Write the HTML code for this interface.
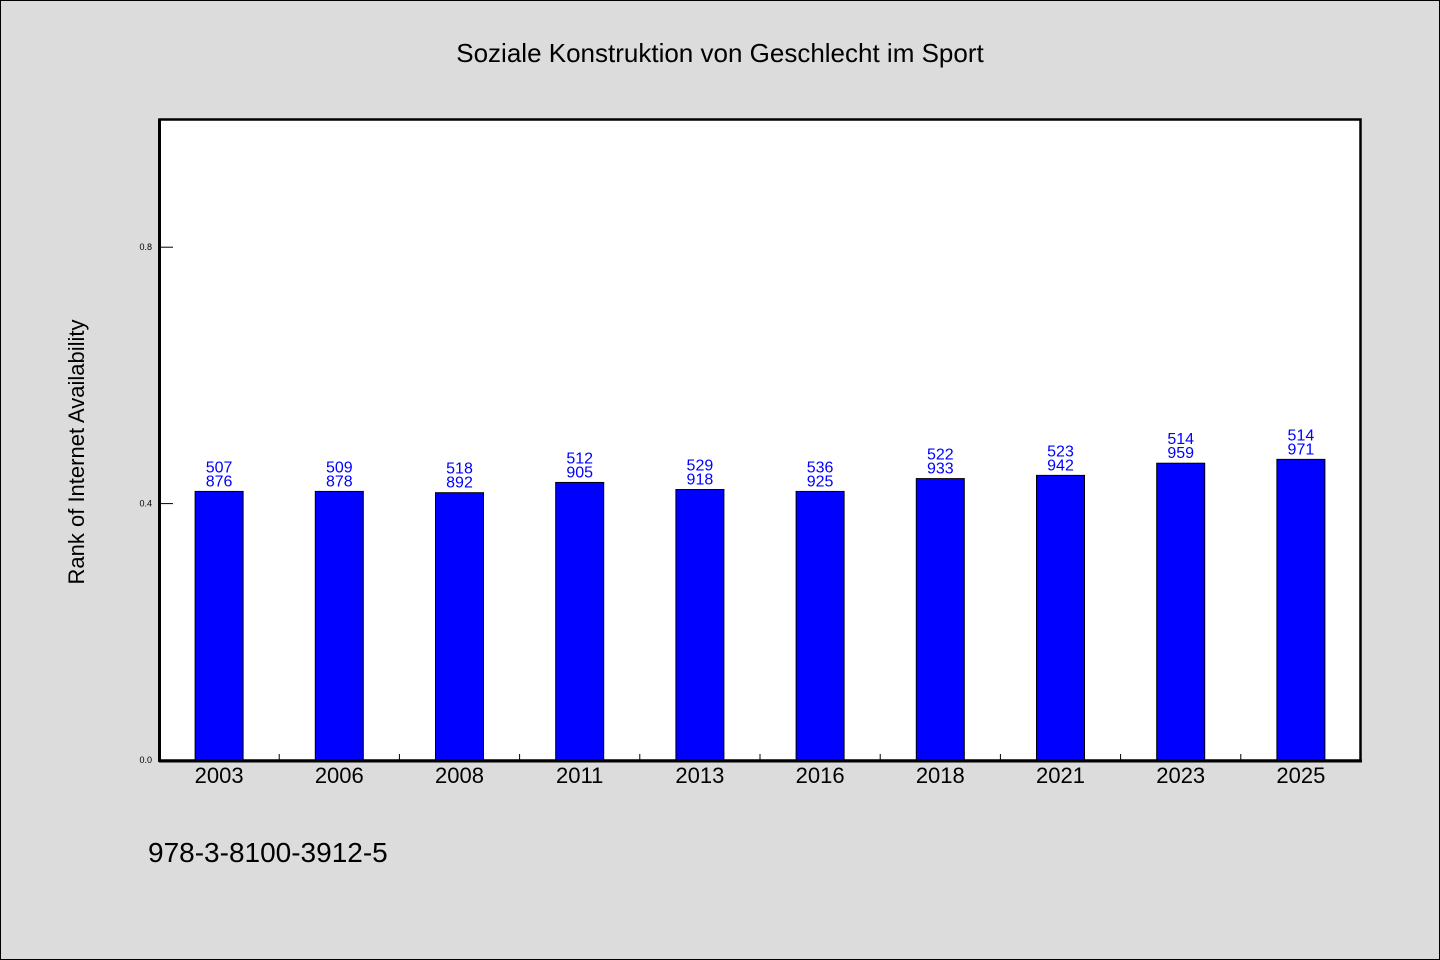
<!DOCTYPE html>
<html><head><meta charset="utf-8"><style>
body{margin:0;background:#dcdcdc;}
svg{display:block;font-family:"WenQuanYi Zen Hei","Liberation Sans",sans-serif;}
</style></head><body>
<svg id="chart" width="1440" height="960" viewBox="0 0 1440 960">
<rect x="0.5" y="0.5" width="1439" height="959" fill="#dcdcdc" stroke="#000"/>
<text x="720" y="62" text-anchor="middle" font-size="26" fill="#000">Soziale Konstruktion von Geschlecht im Sport</text>
<rect x="159.5" y="119.5" width="1201" height="641" fill="#fff" stroke="#000" stroke-width="2.5"/>
<g id="bars"></g>
<line x1="159" y1="761" x2="1362" y2="761" stroke="#000" stroke-width="3"/>
<line x1="159.5" y1="119" x2="159.5" y2="762" stroke="#000" stroke-width="3"/>
<g id="axes"></g>
<text transform="translate(84,452) rotate(-90)" text-anchor="middle" font-size="22" fill="#000">Rank of Internet Availability</text>
<text x="148" y="862" font-size="28" fill="#000">978-3-8100-3912-5</text>
</svg>
<script>
const categories=["2003","2006","2008","2011","2013","2016","2018","2021","2023","2025"];
const values=[0.419,0.419,0.417,0.433,0.422,0.419,0.439,0.444,0.463,0.469];
const labelTop=["507","509","518","512","529","536","522","523","514","514"];
const labelBottom=["876","878","892","905","918","925","933","942","959","971"];
const yTicks=[0,0.4,0.8];
const yTickLabels=["0.0","0.4","0.8"];
const ns="http://www.w3.org/2000/svg";
const X0=159,X1=1361,Y0=760,Y1=119,YMAX=1.0;
const slot=(X1-X0)/categories.length;
const xc=i=>X0+slot*(i+0.5);
const y=v=>Y0-(v/YMAX)*(Y0-Y1);
function mk(tag,attrs,parent,txt){const e=document.createElementNS(ns,tag);for(const k in attrs)e.setAttribute(k,attrs[k]);if(txt!==undefined)e.textContent=txt;parent.appendChild(e);return e;}
const bars=document.getElementById('bars'),axes=document.getElementById('axes');
categories.forEach((c,i)=>{
  const top=y(values[i]);
  const r=mk('rect',{x:xc(i)-24,y:top,width:48,height:Y0-top,fill:'#0000ff',stroke:'#000','stroke-width':1},bars);
  
  
  const t1=mk('text',{x:xc(i),y:top-19,'text-anchor':'middle','font-size':16,fill:'#0000ff'},bars,labelTop[i]);
  
  
  const t2=mk('text',{x:xc(i),y:top-5,'text-anchor':'middle','font-size':16,fill:'#0000ff'},bars,labelBottom[i]);
  
  
  const xl=mk('text',{x:xc(i),y:783,'text-anchor':'middle','font-size':22,fill:'#000'},axes,c);
  
  
  if(i>0){const tk=mk('line',{x1:X0+slot*i,x2:X0+slot*i,y1:754,y2:760,stroke:'#000','stroke-width':1},axes);
  
  }
});
yTicks.forEach((v,i)=>{
  const yy=y(v);
  const tk=mk('line',{x1:160,x2:173,y1:yy,y2:yy,stroke:'#000','stroke-width':1},axes);
  
  
  const tl=mk('text',{x:152,y:yy+3,'text-anchor':'end','font-size':9,fill:'#000'},axes,yTickLabels[i]);
  
  
});
</script>
</body></html>
